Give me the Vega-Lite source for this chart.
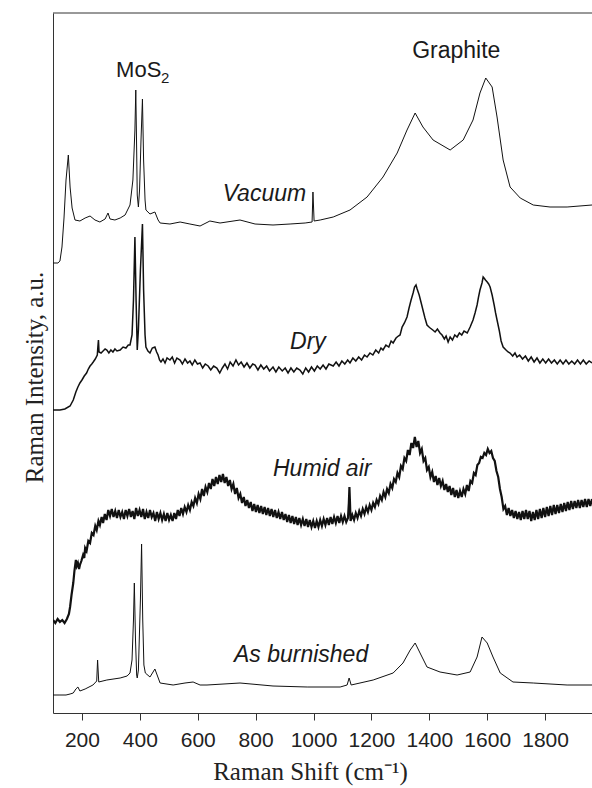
{
"$schema":"https://vega.github.io/schema/vega-lite/v6.json",
"width":539,"height":700,
"autosize":{"type":"none"},
"padding":{"left":53,"top":13,"right":0,"bottom":75},
"background":"white",
"config":{"view":{"stroke":null},"font":"Liberation Sans"},
"datasets":{
"vac":[{"x":100,"v":450},{"x":117,"v":450},{"x":124,"v":452},{"x":131,"v":466},{"x":138,"v":495},{"x":145,"v":533},{"x":153,"v":558},{"x":159,"v":526},{"x":166,"v":505},{"x":176,"v":493},{"x":193,"v":492},{"x":211,"v":495},{"x":228,"v":497},{"x":245,"v":493},{"x":262,"v":491},{"x":280,"v":494},{"x":290,"v":500},{"x":297,"v":494},{"x":314,"v":493},{"x":332,"v":495},{"x":349,"v":498},{"x":366,"v":508},{"x":376,"v":533},{"x":383,"v":583},{"x":386,"v":623},{"x":389,"v":563},{"x":391,"v":518},{"x":395,"v":506},{"x":399,"v":523},{"x":404,"v":573},{"x":409,"v":614},{"x":413,"v":553},{"x":418,"v":513},{"x":421,"v":503},{"x":435,"v":499},{"x":452,"v":501},{"x":463,"v":493},{"x":470,"v":490},{"x":504,"v":489},{"x":539,"v":491},{"x":573,"v":489},{"x":608,"v":487},{"x":642,"v":492},{"x":677,"v":490},{"x":746,"v":493},{"x":798,"v":489},{"x":860,"v":488},{"x":919,"v":489},{"x":971,"v":490},{"x":995,"v":491},{"x":998,"v":521},{"x":1002,"v":492},{"x":1023,"v":493},{"x":1068,"v":496},{"x":1126,"v":503},{"x":1185,"v":516},{"x":1240,"v":536},{"x":1289,"v":560},{"x":1323,"v":583},{"x":1351,"v":600},{"x":1378,"v":586},{"x":1413,"v":573},{"x":1472,"v":563},{"x":1517,"v":573},{"x":1551,"v":593},{"x":1575,"v":620},{"x":1595,"v":635},{"x":1617,"v":626},{"x":1634,"v":596},{"x":1655,"v":553},{"x":1679,"v":526},{"x":1714,"v":515},{"x":1759,"v":508},{"x":1817,"v":506},{"x":1876,"v":506},{"x":1962,"v":508}],
"dry":[{"x":100,"v":303},{"x":124,"v":303},{"x":141,"v":304},{"x":159,"v":307},{"x":170,"v":313},{"x":179,"v":321},{"x":186,"v":326},{"x":193,"v":330},{"x":200,"v":333},{"x":208,"v":337},{"x":216,"v":340},{"x":222,"v":344},{"x":228,"v":347},{"x":234,"v":349},{"x":239,"v":351},{"x":246,"v":354},{"x":253,"v":358},{"x":255,"v":366},{"x":257,"v":373},{"x":259,"v":361},{"x":266,"v":360},{"x":273,"v":362},{"x":280,"v":364},{"x":286,"v":363},{"x":293,"v":360},{"x":300,"v":363},{"x":307,"v":361},{"x":314,"v":364},{"x":321,"v":362},{"x":332,"v":363},{"x":342,"v":366},{"x":352,"v":365},{"x":360,"v":368},{"x":366,"v":368},{"x":373,"v":378},{"x":378,"v":413},{"x":383,"v":476},{"x":387,"v":413},{"x":391,"v":363},{"x":395,"v":383},{"x":402,"v":443},{"x":409,"v":489},{"x":413,"v":423},{"x":418,"v":378},{"x":421,"v":366},{"x":428,"v":362},{"x":435,"v":360},{"x":443,"v":365},{"x":452,"v":366},{"x":458,"v":361},{"x":463,"v":358},{"x":468,"v":353},{"x":473,"v":351},{"x":480,"v":354},{"x":487,"v":350},{"x":494,"v":355},{"x":504,"v":353},{"x":512,"v":356},{"x":520,"v":350},{"x":528,"v":355},{"x":539,"v":353},{"x":547,"v":349},{"x":556,"v":354},{"x":565,"v":350},{"x":573,"v":352},{"x":581,"v":348},{"x":590,"v":353},{"x":599,"v":349},{"x":608,"v":350},{"x":617,"v":345},{"x":626,"v":349},{"x":636,"v":347},{"x":645,"v":343},{"x":655,"v":347},{"x":666,"v":345},{"x":676,"v":340},{"x":685,"v":345},{"x":694,"v":349},{"x":703,"v":344},{"x":712,"v":351},{"x":722,"v":347},{"x":732,"v":353},{"x":741,"v":348},{"x":750,"v":351},{"x":760,"v":346},{"x":770,"v":350},{"x":780,"v":345},{"x":790,"v":349},{"x":798,"v":348},{"x":808,"v":343},{"x":818,"v":348},{"x":828,"v":344},{"x":838,"v":347},{"x":848,"v":342},{"x":860,"v":346},{"x":870,"v":341},{"x":880,"v":346},{"x":892,"v":342},{"x":902,"v":345},{"x":912,"v":340},{"x":922,"v":345},{"x":932,"v":341},{"x":942,"v":345},{"x":953,"v":343},{"x":963,"v":339},{"x":973,"v":345},{"x":983,"v":341},{"x":993,"v":346},{"x":1003,"v":342},{"x":1013,"v":347},{"x":1023,"v":344},{"x":1033,"v":348},{"x":1043,"v":344},{"x":1053,"v":349},{"x":1068,"v":347},{"x":1078,"v":351},{"x":1088,"v":347},{"x":1098,"v":352},{"x":1108,"v":349},{"x":1118,"v":353},{"x":1126,"v":350},{"x":1136,"v":355},{"x":1146,"v":352},{"x":1156,"v":356},{"x":1166,"v":353},{"x":1176,"v":358},{"x":1185,"v":356},{"x":1195,"v":360},{"x":1205,"v":358},{"x":1215,"v":363},{"x":1225,"v":360},{"x":1233,"v":365},{"x":1240,"v":363},{"x":1250,"v":368},{"x":1260,"v":366},{"x":1268,"v":372},{"x":1275,"v":370},{"x":1285,"v":375},{"x":1293,"v":377},{"x":1299,"v":378},{"x":1306,"v":386},{"x":1314,"v":390},{"x":1323,"v":396},{"x":1330,"v":405},{"x":1337,"v":413},{"x":1344,"v":420},{"x":1349,"v":426},{"x":1354,"v":428},{"x":1358,"v":424},{"x":1365,"v":418},{"x":1372,"v":410},{"x":1378,"v":403},{"x":1385,"v":395},{"x":1392,"v":388},{"x":1399,"v":386},{"x":1403,"v":385},{"x":1412,"v":383},{"x":1420,"v":381},{"x":1428,"v":384},{"x":1437,"v":380},{"x":1444,"v":378},{"x":1452,"v":374},{"x":1458,"v":377},{"x":1465,"v":371},{"x":1472,"v":376},{"x":1480,"v":373},{"x":1488,"v":378},{"x":1496,"v":376},{"x":1504,"v":380},{"x":1512,"v":378},{"x":1520,"v":382},{"x":1531,"v":380},{"x":1541,"v":386},{"x":1551,"v":393},{"x":1558,"v":400},{"x":1565,"v":408},{"x":1570,"v":416},{"x":1575,"v":423},{"x":1582,"v":430},{"x":1586,"v":436},{"x":1589,"v":435},{"x":1594,"v":433},{"x":1600,"v":431},{"x":1605,"v":429},{"x":1610,"v":426},{"x":1617,"v":418},{"x":1624,"v":408},{"x":1629,"v":400},{"x":1634,"v":393},{"x":1642,"v":382},{"x":1648,"v":372},{"x":1655,"v":366},{"x":1665,"v":363},{"x":1672,"v":361},{"x":1679,"v":360},{"x":1688,"v":357},{"x":1696,"v":360},{"x":1703,"v":356},{"x":1712,"v":358},{"x":1722,"v":354},{"x":1732,"v":357},{"x":1742,"v":352},{"x":1752,"v":356},{"x":1762,"v":351},{"x":1772,"v":355},{"x":1782,"v":350},{"x":1792,"v":354},{"x":1802,"v":350},{"x":1812,"v":354},{"x":1822,"v":350},{"x":1832,"v":353},{"x":1842,"v":349},{"x":1852,"v":353},{"x":1862,"v":349},{"x":1872,"v":353},{"x":1882,"v":349},{"x":1892,"v":352},{"x":1902,"v":349},{"x":1912,"v":353},{"x":1922,"v":349},{"x":1932,"v":353},{"x":1942,"v":349},{"x":1952,"v":352},{"x":1962,"v":350}],
"hum":[{"x":100,"v":93},{"x":108,"v":90},{"x":116,"v":94},{"x":124,"v":91},{"x":132,"v":93},{"x":140,"v":90},{"x":148,"v":94},{"x":155,"v":99},{"x":159,"v":106},{"x":164,"v":118},{"x":170,"v":130},{"x":174,"v":142},{"x":179,"v":153},{"x":182,"v":147},{"x":186,"v":150},{"x":190,"v":144},{"x":193,"v":148},{"x":198,"v":152},{"x":204,"v":158},{"x":208,"v":155},{"x":211,"v":165},{"x":216,"v":162},{"x":222,"v":172},{"x":228,"v":170},{"x":234,"v":180},{"x":240,"v":178},{"x":246,"v":187},{"x":251,"v":183},{"x":257,"v":192},{"x":262,"v":188},{"x":268,"v":196},{"x":273,"v":190},{"x":279,"v":199},{"x":285,"v":193},{"x":291,"v":203},{"x":297,"v":197},{"x":303,"v":204},{"x":309,"v":196},{"x":315,"v":202},{"x":321,"v":195},{"x":327,"v":203},{"x":333,"v":196},{"x":339,"v":201},{"x":345,"v":194},{"x":351,"v":203},{"x":357,"v":197},{"x":363,"v":204},{"x":369,"v":196},{"x":375,"v":202},{"x":381,"v":194},{"x":387,"v":205},{"x":393,"v":197},{"x":399,"v":203},{"x":405,"v":196},{"x":411,"v":204},{"x":417,"v":194},{"x":423,"v":201},{"x":429,"v":195},{"x":435,"v":203},{"x":441,"v":196},{"x":447,"v":200},{"x":453,"v":192},{"x":459,"v":201},{"x":465,"v":194},{"x":471,"v":200},{"x":477,"v":193},{"x":483,"v":199},{"x":489,"v":192},{"x":495,"v":200},{"x":501,"v":193},{"x":507,"v":198},{"x":513,"v":192},{"x":519,"v":200},{"x":525,"v":194},{"x":531,"v":203},{"x":537,"v":197},{"x":543,"v":205},{"x":549,"v":199},{"x":555,"v":206},{"x":561,"v":201},{"x":567,"v":208},{"x":573,"v":203},{"x":579,"v":211},{"x":585,"v":207},{"x":591,"v":215},{"x":597,"v":210},{"x":603,"v":219},{"x":609,"v":214},{"x":615,"v":224},{"x":621,"v":217},{"x":627,"v":226},{"x":633,"v":221},{"x":639,"v":230},{"x":645,"v":224},{"x":651,"v":234},{"x":657,"v":227},{"x":663,"v":236},{"x":669,"v":229},{"x":675,"v":238},{"x":681,"v":231},{"x":687,"v":239},{"x":693,"v":230},{"x":699,"v":236},{"x":705,"v":227},{"x":711,"v":233},{"x":717,"v":224},{"x":723,"v":229},{"x":729,"v":219},{"x":735,"v":225},{"x":741,"v":215},{"x":747,"v":219},{"x":753,"v":210},{"x":759,"v":216},{"x":765,"v":207},{"x":771,"v":213},{"x":777,"v":205},{"x":783,"v":211},{"x":789,"v":202},{"x":795,"v":209},{"x":801,"v":201},{"x":807,"v":208},{"x":813,"v":200},{"x":819,"v":207},{"x":825,"v":199},{"x":831,"v":206},{"x":837,"v":198},{"x":843,"v":205},{"x":849,"v":197},{"x":855,"v":204},{"x":861,"v":196},{"x":867,"v":203},{"x":873,"v":195},{"x":879,"v":201},{"x":885,"v":194},{"x":891,"v":201},{"x":897,"v":193},{"x":903,"v":199},{"x":909,"v":191},{"x":915,"v":198},{"x":921,"v":190},{"x":927,"v":197},{"x":933,"v":189},{"x":939,"v":196},{"x":945,"v":188},{"x":951,"v":195},{"x":957,"v":188},{"x":963,"v":194},{"x":969,"v":187},{"x":975,"v":194},{"x":981,"v":186},{"x":987,"v":193},{"x":993,"v":186},{"x":999,"v":192},{"x":1005,"v":185},{"x":1011,"v":192},{"x":1017,"v":186},{"x":1023,"v":193},{"x":1029,"v":187},{"x":1035,"v":194},{"x":1041,"v":188},{"x":1047,"v":195},{"x":1053,"v":188},{"x":1059,"v":196},{"x":1065,"v":189},{"x":1071,"v":196},{"x":1077,"v":190},{"x":1083,"v":197},{"x":1089,"v":190},{"x":1095,"v":197},{"x":1101,"v":191},{"x":1107,"v":197},{"x":1113,"v":191},{"x":1119,"v":195},{"x":1122,"v":210},{"x":1124,"v":226},{"x":1126,"v":210},{"x":1128,"v":192},{"x":1134,"v":198},{"x":1140,"v":193},{"x":1146,"v":200},{"x":1152,"v":195},{"x":1158,"v":202},{"x":1164,"v":197},{"x":1170,"v":204},{"x":1176,"v":199},{"x":1182,"v":206},{"x":1188,"v":201},{"x":1194,"v":208},{"x":1200,"v":203},{"x":1206,"v":210},{"x":1212,"v":206},{"x":1218,"v":213},{"x":1224,"v":209},{"x":1230,"v":217},{"x":1236,"v":213},{"x":1242,"v":221},{"x":1248,"v":216},{"x":1254,"v":224},{"x":1260,"v":220},{"x":1266,"v":229},{"x":1272,"v":225},{"x":1278,"v":234},{"x":1284,"v":231},{"x":1290,"v":240},{"x":1296,"v":236},{"x":1302,"v":247},{"x":1308,"v":244},{"x":1314,"v":255},{"x":1320,"v":252},{"x":1326,"v":263},{"x":1332,"v":258},{"x":1338,"v":270},{"x":1344,"v":265},{"x":1350,"v":276},{"x":1356,"v":266},{"x":1362,"v":272},{"x":1368,"v":260},{"x":1374,"v":264},{"x":1380,"v":252},{"x":1386,"v":255},{"x":1392,"v":243},{"x":1398,"v":246},{"x":1404,"v":236},{"x":1410,"v":241},{"x":1416,"v":231},{"x":1422,"v":237},{"x":1428,"v":228},{"x":1434,"v":235},{"x":1440,"v":227},{"x":1446,"v":232},{"x":1452,"v":223},{"x":1458,"v":229},{"x":1464,"v":221},{"x":1470,"v":227},{"x":1476,"v":218},{"x":1482,"v":225},{"x":1488,"v":216},{"x":1494,"v":223},{"x":1500,"v":215},{"x":1506,"v":222},{"x":1512,"v":216},{"x":1518,"v":224},{"x":1524,"v":219},{"x":1530,"v":228},{"x":1536,"v":222},{"x":1542,"v":232},{"x":1548,"v":230},{"x":1554,"v":240},{"x":1560,"v":238},{"x":1566,"v":248},{"x":1572,"v":250},{"x":1578,"v":256},{"x":1584,"v":255},{"x":1590,"v":260},{"x":1596,"v":258},{"x":1602,"v":264},{"x":1608,"v":260},{"x":1614,"v":262},{"x":1620,"v":255},{"x":1626,"v":252},{"x":1632,"v":242},{"x":1638,"v":236},{"x":1644,"v":224},{"x":1650,"v":216},{"x":1656,"v":204},{"x":1662,"v":207},{"x":1668,"v":198},{"x":1674,"v":205},{"x":1680,"v":197},{"x":1686,"v":203},{"x":1692,"v":195},{"x":1698,"v":202},{"x":1704,"v":194},{"x":1710,"v":201},{"x":1716,"v":193},{"x":1722,"v":202},{"x":1728,"v":194},{"x":1734,"v":203},{"x":1740,"v":194},{"x":1746,"v":202},{"x":1752,"v":192},{"x":1758,"v":201},{"x":1764,"v":193},{"x":1770,"v":203},{"x":1776,"v":194},{"x":1782,"v":204},{"x":1788,"v":195},{"x":1794,"v":205},{"x":1800,"v":196},{"x":1806,"v":206},{"x":1812,"v":197},{"x":1818,"v":207},{"x":1824,"v":198},{"x":1830,"v":208},{"x":1836,"v":199},{"x":1842,"v":208},{"x":1848,"v":200},{"x":1854,"v":209},{"x":1860,"v":201},{"x":1866,"v":210},{"x":1872,"v":202},{"x":1878,"v":211},{"x":1884,"v":203},{"x":1890,"v":212},{"x":1896,"v":204},{"x":1902,"v":212},{"x":1908,"v":205},{"x":1914,"v":213},{"x":1920,"v":205},{"x":1926,"v":213},{"x":1932,"v":206},{"x":1938,"v":214},{"x":1944,"v":206},{"x":1950,"v":214},{"x":1956,"v":207},{"x":1962,"v":214}],
"asb":[{"x":100,"v":18},{"x":124,"v":18},{"x":145,"v":18},{"x":159,"v":19},{"x":170,"v":20},{"x":179,"v":24},{"x":186,"v":26},{"x":193,"v":22},{"x":211,"v":24},{"x":238,"v":28},{"x":251,"v":32},{"x":254,"v":53},{"x":258,"v":31},{"x":286,"v":33},{"x":332,"v":35},{"x":356,"v":37},{"x":366,"v":40},{"x":373,"v":53},{"x":378,"v":93},{"x":381,"v":130},{"x":385,"v":73},{"x":389,"v":38},{"x":391,"v":35},{"x":395,"v":43},{"x":402,"v":113},{"x":406,"v":169},{"x":410,"v":93},{"x":414,"v":48},{"x":419,"v":40},{"x":435,"v":36},{"x":452,"v":44},{"x":470,"v":30},{"x":515,"v":28},{"x":556,"v":30},{"x":584,"v":31},{"x":608,"v":28},{"x":632,"v":28},{"x":746,"v":30},{"x":860,"v":27},{"x":978,"v":26},{"x":1092,"v":26},{"x":1116,"v":28},{"x":1123,"v":35},{"x":1130,"v":28},{"x":1206,"v":33},{"x":1275,"v":40},{"x":1309,"v":50},{"x":1334,"v":63},{"x":1351,"v":70},{"x":1368,"v":60},{"x":1392,"v":46},{"x":1437,"v":41},{"x":1496,"v":38},{"x":1541,"v":41},{"x":1565,"v":56},{"x":1582,"v":76},{"x":1600,"v":70},{"x":1620,"v":56},{"x":1645,"v":40},{"x":1689,"v":31},{"x":1759,"v":30},{"x":1876,"v":28},{"x":1962,"v":28}],
"ital":[{"t":"Vacuum","x":686,"y":512},{"t":"Dry","x":919,"y":364},{"t":"Humid air","x":860,"y":237},{"t":"As burnished","x":725,"y":51}],
"up":[{"t":"Graphite","x":1493,"y":655}],
"mos":[{"t":"MoS","x":318,"y":636}],
"sub":[{"t":"2","x":473,"y":630}],
"top":[{"v":700}]
},
"encoding":{
"x":{"field":"x","type":"quantitative","scale":{"domain":[100,1962],"nice":false,"zero":false},
"axis":{"title":"Raman Shift (cm⁻¹)","values":[200,400,600,800,1000,1200,1400,1600,1800],"format":"d","grid":false,"domainColor":"#333","tickColor":"#333","tickSize":7,"labelFont":"Liberation Sans","labelFontSize":21,"labelColor":"#222","labelPadding":9,"labelFlush":false,"labelOverlap":false,"titleFont":"Liberation Serif","titleFontSize":25,"titleFontWeight":"normal","titleColor":"#222","titleX":257,"titleY":66,"titleBaseline":"alphabetic","titleAlign":"center","titleAnchor":null}},
"y":{"field":"v","type":"quantitative","scale":{"domain":[0,700],"nice":false,"zero":false},
"axis":{"title":"Raman Intensity, a.u.","ticks":false,"labels":false,"grid":false,"domainColor":"#333","titleFont":"Liberation Serif","titleFontSize":25,"titleFontWeight":"normal","titleColor":"#222","titleX":-11,"titleY":364,"titleBaseline":"alphabetic","titleAlign":"center","titleAngle":-90}}
},
"layer":[
{"data":{"name":"top"},"mark":{"type":"rule","color":"#333","strokeWidth":1},"encoding":{"x":null,"y":{"field":"v","type":"quantitative"}}},
{"data":{"name":"vac"},"mark":{"type":"line","color":"#111","strokeWidth":1,"clip":true}},
{"data":{"name":"dry"},"mark":{"type":"line","color":"#111","strokeWidth":1.5,"clip":true}},
{"data":{"name":"hum"},"mark":{"type":"line","color":"#111","strokeWidth":2.2,"clip":true}},
{"data":{"name":"asb"},"mark":{"type":"line","color":"#111","strokeWidth":1,"clip":true}},
{"data":{"name":"ital"},"mark":{"type":"text","font":"Liberation Sans","fontStyle":"italic","fontSize":23,"align":"left","baseline":"alphabetic","color":"#1a1a1a"},"encoding":{"y":{"field":"y","type":"quantitative"},"text":{"field":"t"}}},
{"data":{"name":"up"},"mark":{"type":"text","font":"Liberation Sans","fontSize":23,"align":"center","baseline":"alphabetic","color":"#1a1a1a"},"encoding":{"y":{"field":"y","type":"quantitative"},"text":{"field":"t"}}},
{"data":{"name":"mos"},"mark":{"type":"text","font":"Liberation Sans","fontSize":22,"align":"left","baseline":"alphabetic","color":"#1a1a1a"},"encoding":{"y":{"field":"y","type":"quantitative"},"text":{"field":"t"}}},
{"data":{"name":"sub"},"mark":{"type":"text","font":"Liberation Sans","fontSize":15,"align":"left","baseline":"alphabetic","color":"#1a1a1a"},"encoding":{"y":{"field":"y","type":"quantitative"},"text":{"field":"t"}}}
]
}
